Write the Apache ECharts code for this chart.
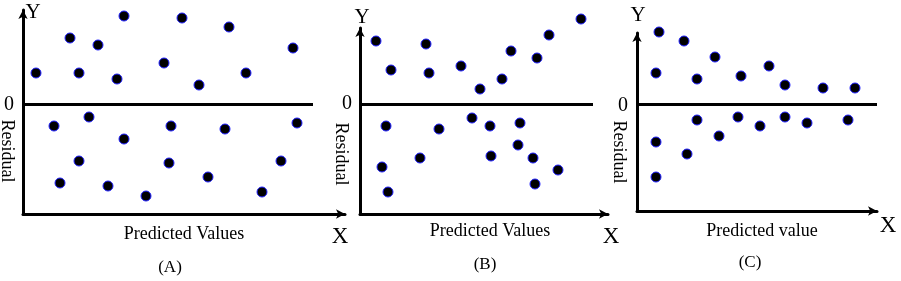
<!DOCTYPE html>
<html>
<head>
<meta charset="utf-8">
<script src="https://cdn.jsdelivr.net/npm/echarts@6/dist/echarts.min.js"></script>
<style>html,body{margin:0;padding:0;background:#fff}#c{width:901px;height:281px}</style>
</head>
<body>
<div id="c"></div>
<script>
// Residual plots, values (arbitrary units: predicted value, residual)
const pointsA = [
  [1.3, 3.1], [4.7, 6.6], [5.6, 3.1], [7.5, 5.9], [10.1, 8.8], [9.4, 2.5],
  [14.1, 4.1], [15.9, 8.6], [17.6, 1.9], [20.6, 7.7], [22.3, 3.1], [27.0, 5.6],
  [3.1, -2.2], [6.6, -1.3], [5.6, -5.7], [3.7, -7.9], [10.1, -3.5], [8.5, -8.2],
  [12.3, -9.2], [14.8, -2.2], [14.6, -5.9], [18.5, -7.3], [20.2, -2.5], [23.9, -8.8],
  [25.8, -5.7], [27.4, -1.9]
];
const pointsB = [
  [1.6, 6.3], [3.1, 3.4], [6.6, 6.0], [6.9, 3.1], [10.1, 3.8], [12.0, 1.5],
  [14.2, 2.5], [15.1, 5.3], [17.7, 4.6], [18.9, 6.9], [22.1, 8.5],
  [2.6, -2.2], [2.2, -6.3], [2.8, -8.8], [6.0, -5.4], [7.9, -2.5], [11.2, -1.4],
  [13.0, -2.2], [13.1, -5.2], [16.0, -1.9], [15.8, -4.1], [17.3, -5.4], [17.5, -8.0],
  [19.8, -6.6]
];
const pointsC = [
  [2.2, 7.2], [4.7, 6.3], [7.8, 4.7], [1.9, 3.1], [6.0, 2.5], [10.4, 2.8],
  [13.2, 3.8], [14.8, 1.9], [18.6, 1.6], [21.8, 1.6],
  [6.0, -1.6], [10.1, -1.3], [12.3, -2.2], [14.8, -1.3], [17.0, -1.9], [21.1, -1.6],
  [8.2, -3.2], [1.9, -3.8], [5.0, -5.0], [1.9, -7.3]
];
const panelLabels = ['(A)', '(B)', '(C)'];
const xTitles = ['Predicted Values', 'Predicted Values', 'Predicted value'];
const yTitle = 'Residual';
const zeroLineEnds = [29, 23.3, 24];

const FONT = '"Liberation Serif", "Times New Roman", serif';
const grids = [
  {left: 23, top: 10, width: 322, height: 204},
  {left: 360, top: 28, width: 248, height: 186},
  {left: 637, top: 33, width: 240, height: 178}
];
const xMax = [32.2, 24.8, 24];
const yRange = [[-11, 9.4], [-11, 7.6], [-10.7, 7.1]];
const allPoints = [pointsA, pointsB, pointsC];

const axisLine = {show: true, onZero: false, symbol: ['none', 'arrow'], symbolSize: [7, 9],
  lineStyle: {color: '#000', width: 3}};

const option = {
  animation: false,
  grid: grids,
  xAxis: grids.map((g, i) => ({
    type: 'value', gridIndex: i, min: 0, max: xMax[i],
    axisLine: axisLine, axisTick: {show: false}, axisLabel: {show: false}, splitLine: {show: false}
  })),
  yAxis: grids.map((g, i) => ({
    type: 'value', gridIndex: i, min: yRange[i][0], max: yRange[i][1],
    axisLine: axisLine, axisTick: {show: false}, axisLabel: {show: false}, splitLine: {show: false}
  })),
  series: allPoints.map((pts, i) => ({
    type: 'scatter', xAxisIndex: i, yAxisIndex: i, data: pts, clip: false,
    symbolSize: 10,
    itemStyle: {color: '#000', borderColor: '#2020ff', borderWidth: 1, opacity: 1},
    markLine: {
      silent: true, symbol: ['none', 'none'], label: {show: false},
      lineStyle: {color: '#000', width: 3, type: 'solid'},
      data: [[{coord: [0, 0]}, {coord: [zeroLineEnds[i], 0]}]]
    }
  })),
  graphic: []
};

const textPos = [
  {y: [33, 12], zero: [9, 105], res: [7, 151], xt: [184, 234], pl: [170, 268], X: [340, 237]},
  {y: [362, 17], zero: [347, 104], res: [341, 154], xt: [490, 231], pl: [485, 265], X: [611, 237]},
  {y: [638, 15], zero: [623, 106], res: [619, 152], xt: [762, 231], pl: [750, 263], X: [888, 226]}
];
function txt(t, p, size, rot) {
  return {type: 'text', x: p[0], y: p[1], rotation: rot || 0, silent: true,
    style: {text: t, fill: '#000', fontSize: size, fontFamily: FONT, textAlign: 'center', textVerticalAlign: 'middle'}};
}
textPos.forEach((p, i) => {
  option.graphic.push(txt('Y', p.y, 21));
  option.graphic.push(txt('0', p.zero, 20));
  option.graphic.push(txt(yTitle, p.res, 18, -Math.PI / 2));
  option.graphic.push(txt(xTitles[i], p.xt, 18));
  option.graphic.push(txt(panelLabels[i], p.pl, 17));
  option.graphic.push(txt('X', p.X, 23));
});

const chart = echarts.init(document.getElementById('c'));
chart.setOption(option);
</script>
</body>
</html>
